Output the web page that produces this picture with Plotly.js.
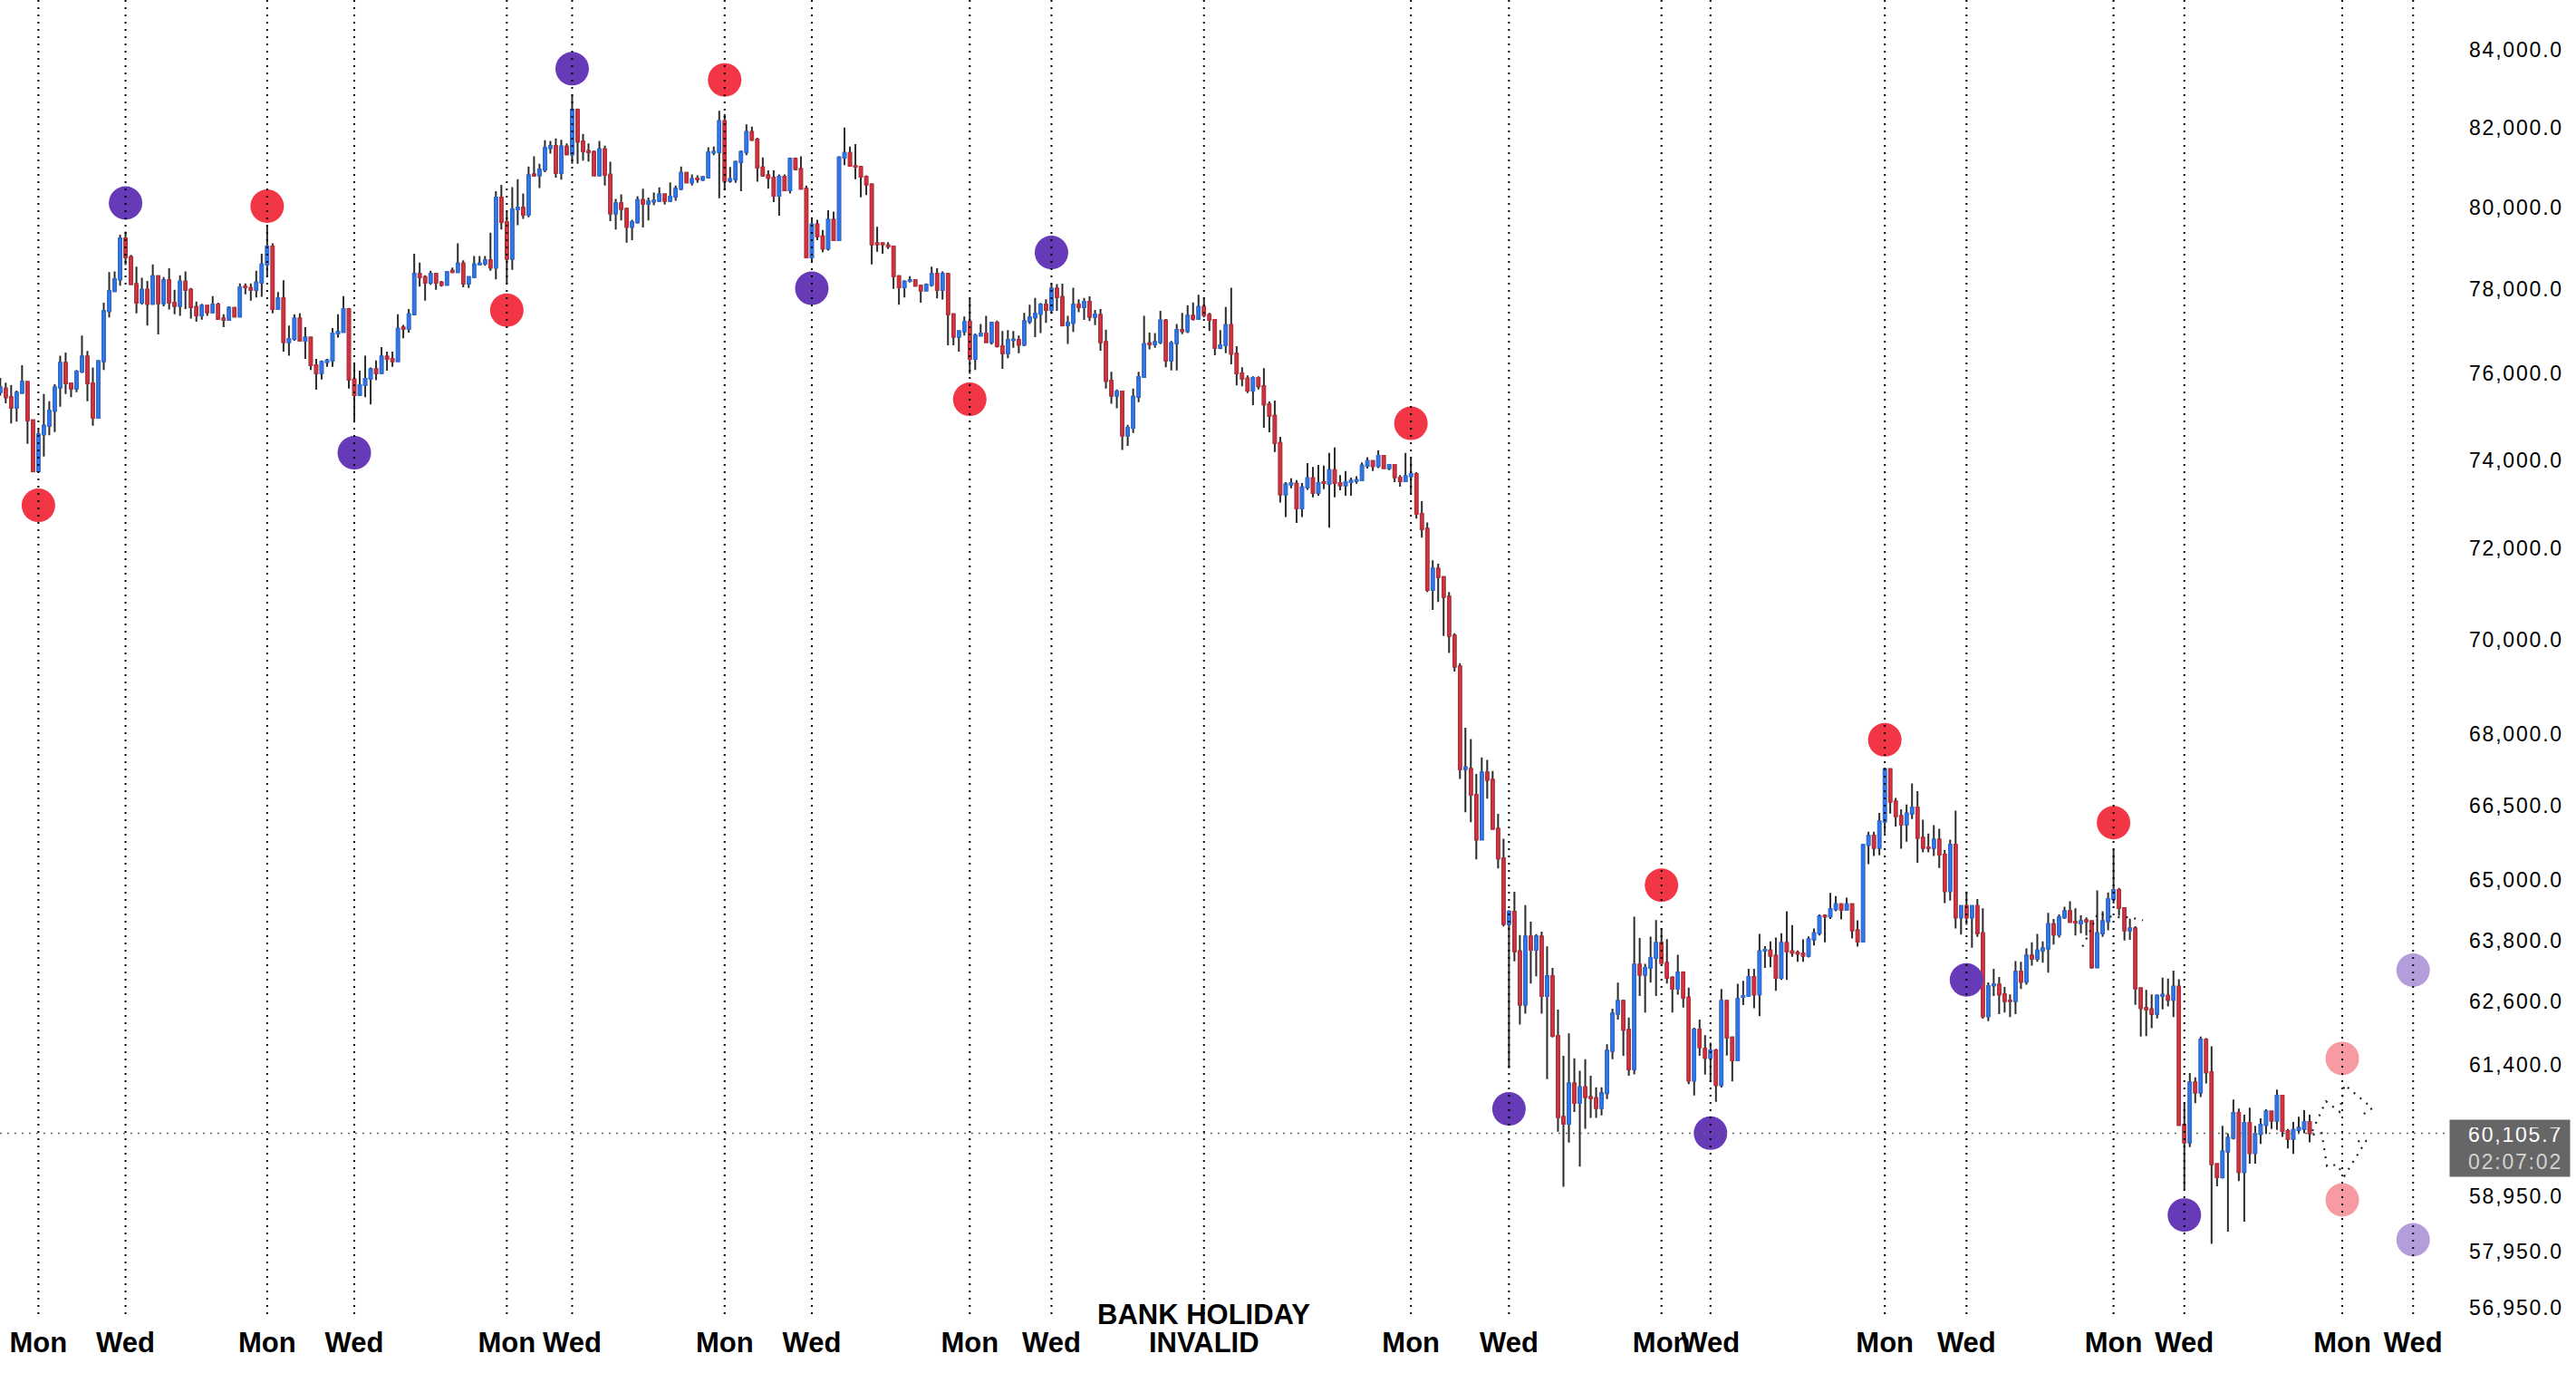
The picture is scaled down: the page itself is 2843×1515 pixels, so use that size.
<!DOCTYPE html>
<html><head><meta charset="utf-8">
<script src="https://cdn.plot.ly/plotly-3.0.1.min.js"></script>
<style>html,body{margin:0;padding:0;background:#fff}#chart{width:2843px;height:1515px}
#chart g.ytick text{letter-spacing:1.8px}
#chart g.annotation.pricebox text{letter-spacing:1.8px}
</style>
</head><body><div id="chart"></div>
<script>
const openP=[75563,75652,75451,75208,75548,75801,74912,73744,74589,74787,75134,75674,76248,75771,75652,76047,76399,75771,74971,76293,77480,77961,78245,79235,78785,78130,77685,77992,77655,78322,77670,78222,77685,77609,78191,77992,77579,77381,77609,77457,77632,77305,77275,77556,77351,78076,78038,77992,78168,78607,79041,77533,77784,76745,76820,77305,76775,76851,76196,76010,76271,76308,76948,76986,77533,75861,75503,75727,75876,76099,76010,76399,76346,76293,77085,77062,77404,78376,78299,78168,78376,78168,78114,78452,78422,78630,78145,78299,78607,78630,78708,78530,80246,79642,78746,79955,79994,79821,80823,80799,80941,81485,81533,80862,81517,81325,82451,81645,81405,81381,80799,81453,80815,79853,80104,79963,79524,79634,80183,80096,80151,80167,80325,80167,80270,80467,80862,80625,80720,80688,80752,81373,81381,82161,80665,80704,81133,81381,81886,81693,80997,80799,80736,80293,80767,80428,81213,80957,80467,78777,79579,79289,78995,79697,79196,81245,81357,81037,81005,80767,80570,79118,79118,79072,79041,78322,78053,78207,78222,78091,77976,78114,78376,77992,78376,77404,76873,77001,77229,76346,76896,76948,76745,77200,76647,76482,76790,76790,76683,77236,77330,77416,77632,77510,78018,77821,77149,77200,77632,77582,77704,77344,77388,76740,75828,75488,75580,74564,74738,75460,75920,76718,76696,76740,77257,76310,76718,77026,77005,77366,77293,77582,77388,77272,76611,76668,77149,76468,76004,75884,75601,75898,75700,75278,75018,74391,73219,73445,73459,72899,73376,73583,73253,73493,73459,73769,73473,73424,73493,73528,73542,73873,73976,73859,74092,73817,73886,73597,73514,73631,73679,72776,72443,71088,71558,71372,70936,70091,69426,67265,67265,66731,65816,67191,67037,66034,65432,64120,64366,63581,62543,63871,63610,63871,62709,63095,61943,60412,60283,61041,60673,60966,60783,60764,60580,60858,61659,62371,62612,62062,61307,63317,63124,63259,63453,63745,63355,63066,62853,63163,62680,61093,62062,61696,61523,61667,61008,62612,61914,61477,62694,62711,63082,62741,63597,63597,63496,63064,63745,63579,63555,63537,63496,63816,63936,64282,64270,64415,64512,64403,64512,63995,63775,65708,65892,65648,66183,67261,66591,66294,66122,66344,66468,65850,65654,65648,65813,65507,64777,65708,64252,64475,64252,64475,63936,62321,62917,62929,62741,62620,62612,63182,62988,63496,63437,63597,63639,64115,63912,64252,64373,64161,64131,64191,64173,63270,63936,64173,64615,64796,64435,63997,64033,62860,62479,62450,62363,62714,62714,62637,62889,60262,59937,61056,60868,61870,61249,59536,59298,59770,60021,60488,59391,60302,59742,60094,60262,60511,60342,60811,60150,60004,60172,60189,60318];
const highP=[75898,75786,75727,75600,76196,75823,74930,74713,75525,75355,75749,76421,76497,75786,76084,76896,76535,76143,76308,77685,78422,78437,79328,79406,78840,78553,78284,78207,78607,78345,78299,78514,77992,78345,78437,78038,77708,77655,77632,77838,77685,77404,77594,77579,78145,78145,78145,78452,78863,79561,79118,77938,78222,77138,77404,77427,77100,76873,76346,76308,76346,77077,77404,77838,77556,76233,76069,76421,76143,76308,76626,76519,76519,77404,77153,77533,78863,78653,78345,78452,78390,78207,78437,78530,79118,78708,78322,78809,78809,78809,79383,80404,80562,79915,80507,80704,80348,81021,81277,81085,81677,81661,81726,81693,81597,82834,82483,81838,81597,81421,81661,81541,81140,80214,80325,79994,79697,80277,80467,80246,80372,80499,80348,80625,80546,81021,80878,80823,80799,80783,81501,81517,82427,82346,81005,81165,81421,82080,82024,81742,81245,80925,80925,80823,80823,81245,81245,81277,80546,79759,79697,79446,79931,79899,81277,81997,81517,81581,81037,80799,80586,79524,79149,79149,79060,78340,78222,78322,78245,78114,78145,78553,78514,78437,78399,77427,77024,77351,77784,76948,77176,77366,77229,77257,77005,77026,77005,76897,77438,77632,77799,77676,77763,78142,78127,78142,77366,78040,77763,77799,77835,77510,77532,77041,76040,75630,75601,74808,75651,76040,77366,76969,76955,77488,77293,76768,77171,77438,77618,77690,77871,77799,77438,77293,77026,77582,78040,76647,76147,75955,75934,75934,76125,75348,75369,74529,73493,73583,73542,73473,73928,73838,73886,73873,74161,74286,73652,73748,73597,73631,73942,74065,73997,74217,74113,73907,73907,73652,74161,74044,73721,73063,72587,71744,71667,71390,71044,70145,69500,68128,67889,67160,67503,67451,67222,66341,65832,64395,64763,63900,64495,64167,63920,63969,63678,63259,62448,61563,61991,61516,61278,61497,61184,60966,60966,61783,62467,62969,62641,62294,64267,63842,63336,63871,64198,64040,63823,63095,63514,63192,62873,62101,62255,61956,61812,61696,62847,62635,61927,62947,63006,63241,63241,63924,63685,63775,63852,63936,64373,64097,63597,63816,63876,64032,64312,64312,64737,64676,64524,64646,64524,64191,65727,65972,65972,66356,67293,67280,66667,66431,66530,66966,66804,66220,65936,66108,66035,65605,65813,66406,64494,64767,64490,64615,64433,62976,63241,63082,62888,62741,63390,63377,63639,63757,63924,63775,64343,64221,64312,64463,64572,64433,64294,64252,64191,64791,64373,64749,65618,64838,64450,64224,64075,62875,62831,62743,62743,63066,63048,63202,63036,60669,61238,61153,61928,61899,61744,59550,60246,60105,60736,60567,60454,60584,60246,60387,60556,60528,60924,60828,60189,60318,60415,60539,60454];
const lowP=[75488,75304,74839,74883,75526,74370,73715,73730,74077,74567,74640,75230,75525,75451,75563,76010,75355,74787,74956,76084,77328,77938,78091,78591,78114,77427,77632,77138,77632,76926,77594,77518,77404,77366,77533,77305,77229,77275,77366,77427,77275,77100,77260,77328,77328,77884,77731,77807,77822,78322,77427,77518,76519,76421,76775,76760,76346,76084,75622,75861,76158,76158,76851,76971,75652,74861,75473,75451,75282,75846,75995,76069,76158,76271,76836,76971,77381,78068,77731,78114,77992,78068,78091,78399,78399,78053,78038,78284,78591,78576,78452,78245,79461,78130,78476,79563,79720,79759,80767,80483,80878,81341,80744,80688,81301,81085,81085,81165,81141,80783,80783,80546,79665,79461,79681,79134,79196,79603,79508,79681,80056,80135,80072,80135,80167,80428,80609,80546,80609,80657,80720,81301,80230,80428,80609,80609,80404,81301,81661,80641,80767,80467,80135,79797,80404,80348,80925,80451,78762,78684,79196,78902,78941,79180,79173,81053,81021,80704,80254,80309,78607,78917,78863,78979,78014,77632,77807,78168,78068,77685,77961,78068,77784,77761,76670,76670,76519,76896,75995,76084,76880,76722,76685,76612,76111,76361,76611,76482,76647,77171,76861,76955,77200,77416,77488,77113,76697,76983,77452,77272,77243,77149,76540,75651,75298,75193,74231,74321,74620,75333,75898,76569,76611,76696,76147,76075,76075,76933,76955,77257,77272,77330,77005,76432,76576,76482,76218,75722,75700,75545,75263,75630,74738,74633,74182,73035,72708,73356,72573,72708,73321,73150,73185,73335,72471,73150,73308,73185,73185,73459,73528,73804,73748,73817,73804,73769,73493,73390,73493,73240,72674,72248,71044,70652,70826,70084,69716,69320,67060,66372,66169,65412,65800,66649,66014,65231,64071,61326,63386,62160,62371,62950,63095,62371,61122,61914,60136,59121,59934,60505,59490,60190,60393,60393,60440,60746,61497,62255,61563,61184,61212,62709,62390,62969,62709,63336,62950,62390,62737,62486,61027,60812,61563,61208,61065,60696,60962,61569,61077,61465,62535,62694,62476,62321,63258,63270,62811,63023,63023,63473,63377,63377,63460,63697,63894,63757,64221,64373,64209,64391,63834,63674,63757,65318,65482,65494,65936,66344,66079,65629,65771,66232,65342,65556,65556,65482,65238,64536,64585,64031,63912,64103,63654,63864,62274,62227,62711,62362,62391,62303,62362,62847,62929,63300,63377,63360,63163,63715,63852,64221,64149,63894,63936,63894,63241,63250,63864,63995,64525,64284,63794,63806,62538,61928,61940,62090,62276,62450,62509,62305,60245,59076,59853,60669,60782,61039,58091,59132,59270,58309,59993,59226,58488,59546,59546,59909,60094,60189,60172,60038,59825,59724,60094,60105,59937];
const closeP=[75674,75451,75208,75548,75801,74912,73744,74589,74787,75134,75674,76248,75771,75652,76047,76399,75771,74971,76293,77480,77961,78245,79235,78785,78130,77685,77992,77655,78322,77670,78222,77685,77609,78191,77992,77579,77381,77609,77457,77632,77290,77275,77556,77351,78053,78053,77992,78168,78607,79041,77533,77784,76745,76820,77305,76775,76851,76196,76010,76271,76308,76948,76986,77533,75861,75503,75727,75876,76099,76010,76399,76346,76293,77062,77062,77404,78376,78299,78168,78376,78168,78114,78422,78422,78630,78145,78299,78607,78630,78708,78530,80246,79642,78746,79955,79994,79821,80799,80799,80941,81485,81533,80862,81517,81325,82451,81645,81405,81381,80799,81453,80815,79853,80104,79963,79524,79634,80183,80096,80151,80167,80325,80167,80270,80467,80862,80625,80704,80704,80752,81373,81381,82161,80665,80704,81133,81381,81886,81693,80997,80799,80736,80293,80767,80428,81213,80957,80467,78777,79579,79289,78995,79697,79196,81245,81357,81037,81021,80767,80570,79095,79095,79095,79041,78322,78053,78191,78222,78091,77976,78114,78376,77992,78376,77404,76873,77001,77229,76346,76896,76948,76745,77199,76647,76482,76790,76804,76683,77236,77330,77416,77632,77510,78018,77821,77149,77200,77632,77582,77704,77344,77402,76740,75828,75488,75580,74564,74738,75460,75920,76696,76696,76740,77257,76310,76718,77026,77005,77366,77293,77582,77388,77272,76611,76668,77149,76468,76004,75884,75601,75898,75700,75278,75018,74391,73219,73445,73473,72899,73376,73583,73253,73473,73473,73769,73473,73424,73493,73528,73542,73873,73976,73859,74092,73817,73886,73610,73514,73631,73679,72776,72437,71088,71558,71372,70936,70091,69426,67265,67296,66731,65816,67191,67037,66034,65432,64120,64366,63581,62543,63871,63610,63871,62709,63095,61943,60412,60283,61041,60673,60966,60783,60764,60580,60858,61659,62371,62612,62062,61307,63317,63124,63259,63453,63745,63355,63066,62853,63163,62680,61093,62062,61725,61523,61667,61008,62612,61914,61477,62653,62711,63082,62741,63579,63614,63496,63064,63745,63579,63555,63537,63496,63816,63936,64270,64270,64415,64512,64403,64512,63995,63775,65708,65892,65648,66183,67261,66591,66294,66122,66344,66468,65850,65648,65648,65813,65507,64777,65708,64252,64475,64252,64475,63936,62321,62905,62941,62741,62612,62612,63182,62988,63496,63437,63597,63639,64115,63912,64252,64373,64161,64149,64173,64173,63270,63936,64173,64615,64796,64435,63997,64033,62860,62479,62450,62363,62714,62731,62637,62889,60262,59937,61056,60868,61870,61249,59536,59298,59770,60021,60488,59391,60302,59742,60094,60262,60511,60342,60811,60150,60004,60172,60206,60318,60105.7];

const xTickIdx=[7,23,49,65,93,105,133,149,178,193,221,259,277,305,314,346,361,388,401,430,443];
const xTickText=['Mon','Wed','Mon','Wed','Mon','Wed','Mon','Wed','Mon','Wed','INVALID','Mon','Wed','Mon','Wed','Mon','Wed','Mon','Wed','Mon','Wed'];
const bankHolidayIdx=221;
const bankHolidayLabel='BANK HOLIDAY';

const yTickVals=[84000,82000,80000,78000,76000,74000,72000,70000,68000,66500,65000,63800,62600,61400,58950,57950,56950];
const yTickText=['84,000.0','82,000.0','80,000.0','78,000.0','76,000.0','74,000.0','72,000.0','70,000.0','68,000.0','66,500.0','65,000.0','63,800.0','62,600.0','61,400.0','58,950.0','57,950.0','56,950.0'];

const redSigIdx=[7,49,93,133,178,259,305,346,388];
const redSigPrice=[72970,80033,77503,83216,75399,74843,64893,67873,66159];
const purpleSigIdx=[23,65,105,149,193,277,314,361,401];
const purpleSigPrice=[80112,74165,83503,78030,78897,60561,60110,63023,58609];
const redProjIdx=[430,430];
const redProjPrice=[61513,58883];
const purpleProjIdx=[443,443];
const purpleProjPrice=[63213,58162];

const projUpIdx=[424.5,425.3,427.0,429.5,430.4,435.5,433.3];
const projUpPrice=[60150,60336,60704,60506,61016,60574,60421];
const projDnIdx=[424.6,426.2,427.2,429.0,430.4,434.4,432.7];
const projDnPrice=[60080,60113,59499,59527,59322,59973,59957];
const oldProjIdx=[382.3,384.1,385.1,388,390.9,393.4];
const oldProjPrice=[63674,64074,64330,64254,64254,64194];

const lastPriceLabel='60,105.7';
const countdownLabel='02:07:02';

const idx=closeP.map((_,i)=>i);
const bodyHigh=closeP.map((c,i)=>Math.max(c,openP[i]));
const bodyLow=closeP.map((c,i)=>Math.min(c,openP[i]));
const lastPrice=closeP[closeP.length-1];

const wicks={type:'candlestick',x:idx,open:openP,high:highP,low:lowP,close:closeP,whiskerwidth:0,
  increasing:{line:{color:'#2b2b2b',width:2},fillcolor:'#2b2b2b'},decreasing:{line:{color:'#2b2b2b',width:2},fillcolor:'#2b2b2b'},hoverinfo:'skip',showlegend:false};
const bodies={type:'candlestick',x:idx,open:openP,high:bodyHigh,low:bodyLow,close:closeP,whiskerwidth:0,
  increasing:{line:{color:'#2c6fe3',width:2},fillcolor:'#3f8df7'},
  decreasing:{line:{color:'#c42e3b',width:2},fillcolor:'#f0434f'},hoverinfo:'skip',showlegend:false};
const mk=(x,y,c)=>({type:'scatter',mode:'markers',x:x,y:y,marker:{size:37,color:c,line:{width:0}},hoverinfo:'skip',showlegend:false});
const dl=(x,y)=>({type:'scatter',mode:'lines',x:x,y:y,line:{color:'#222',width:2.2,dash:'2px,7px'},hoverinfo:'skip',showlegend:false});

const shapes=xTickIdx.map(k=>({type:'line',xref:'x',yref:'paper',x0:k,x1:k,y0:0,y1:1,layer:'above',line:{color:'#000',width:2,dash:'2px,6px'}}));
shapes.push({type:'line',xref:'paper',yref:'y',x0:0,x1:1,y0:lastPrice,y1:lastPrice,layer:'above',line:{color:'#666',width:1.5,dash:'2px,6px'}});

const layout={
  width:2843,height:1515,paper_bgcolor:'#fff',plot_bgcolor:'#fff',
  margin:{l:0,r:141,t:0,b:65},showlegend:false,hovermode:false,boxgap:0.4,
  xaxis:{range:[-0.05,449.45],tickvals:xTickIdx,ticktext:xTickText,tickangle:0,showgrid:false,zeroline:false,showline:false,ticks:'',
    ticklabelstandoff:10,tickfont:{family:'Liberation Sans, Arial, sans-serif',size:31,color:'#000',weight:'bold'},rangeslider:{visible:false},fixedrange:true},
  yaxis:{type:'log',side:'right',range:[4.754676,4.930921],tickvals:yTickVals,ticktext:yTickText,showgrid:false,zeroline:false,showline:false,ticks:'',
    ticklabelstandoff:22,tickfont:{family:'Liberation Sans, Arial, sans-serif',size:23,color:'#000'},fixedrange:true},
  shapes:shapes,
  annotations:[
    {xref:'x',yref:'paper',x:bankHolidayIdx,y:0,yanchor:'middle',xanchor:'center',showarrow:false,text:'<b>'+bankHolidayLabel+'</b>',
     font:{family:'Liberation Sans, Arial, sans-serif',size:31,color:'#000'}},
    {xref:'paper',yref:'y',x:1,y:Math.log10(lastPrice),xanchor:'left',yanchor:'top',xshift:1,yshift:16,showarrow:false,
     text:lastPriceLabel+'<br><span style="color:#d2d2d2">'+countdownLabel+'</span>',align:'right',width:116,height:46,borderpad:8,
     bgcolor:'#666666',font:{family:'Liberation Sans, Arial, sans-serif',size:23,color:'#ffffff'}}
  ]
};
const data=[wicks,bodies,dl(projUpIdx,projUpPrice),dl(projDnIdx,projDnPrice),dl(oldProjIdx,oldProjPrice),
  mk(redSigIdx,redSigPrice,'#f23645'),mk(purpleSigIdx,purpleSigPrice,'#673ab7'),
  mk(redProjIdx,redProjPrice,'#f79ba2'),mk(purpleProjIdx,purpleProjPrice,'#b39ddb')];
Plotly.newPlot('chart',data,layout,{displayModeBar:false,staticPlot:true}).then(()=>{
  const anns=document.querySelectorAll('#chart g.annotation');
  if(anns.length>1) anns[1].classList.add('pricebox');
});
</script></body></html>
